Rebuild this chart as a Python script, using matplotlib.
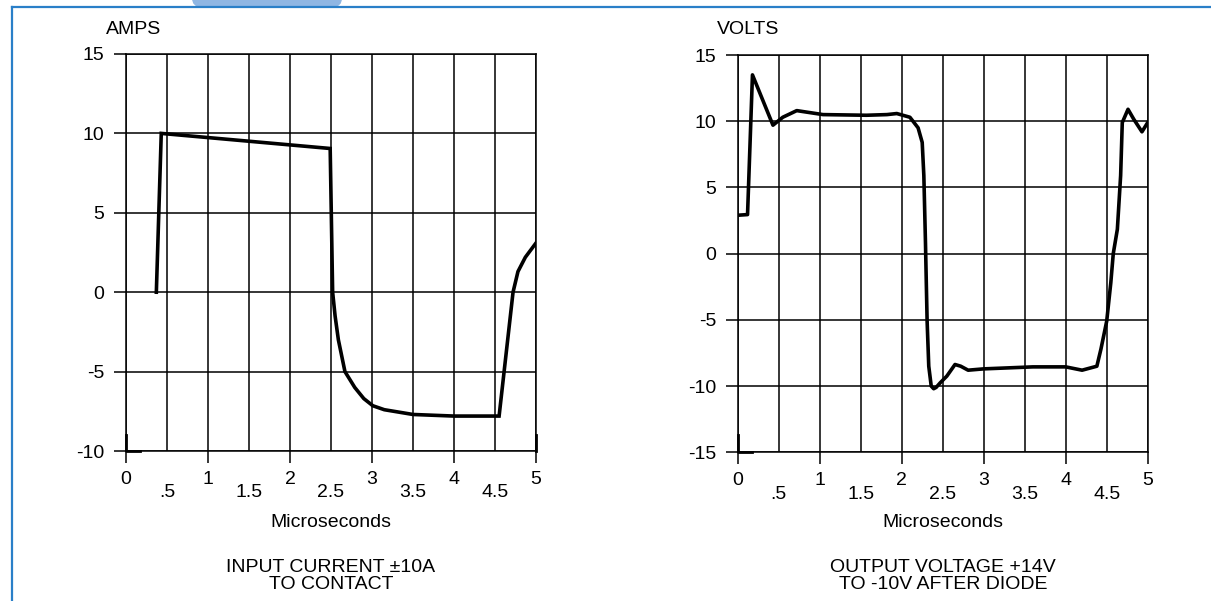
import matplotlib
matplotlib.use("Agg")
import matplotlib.pyplot as plt
from matplotlib.lines import Line2D
from matplotlib.patches import FancyBboxPatch
from matplotlib.transforms import IdentityTransform

plt.rcParams['font.family'] = ['Liberation Sans', 'DejaVu Sans']
plt.rcParams['axes.unicode_minus'] = False

W, H = 1211, 601
FS = 14

# input current (A) vs time (us)
amps_t = [0.37, 0.43, 2.49, 2.52, 2.55, 2.59, 2.67, 2.79, 2.9, 3.01, 3.15, 3.5, 4.0, 4.55,
          4.72, 4.78, 4.87, 5.0]
amps_v = [0.0, 10.0, 9.05, 0.0, -1.5, -3.0, -5.0, -6.0, -6.7, -7.15, -7.4, -7.7, -7.8, -7.8,
          0.0, 1.3, 2.2, 3.1]

# output voltage (V) vs time (us)
volts_t = [0.0, 0.12, 0.18, 0.43, 0.55, 0.72, 1.04, 1.57, 1.82, 1.94, 2.1, 2.2, 2.25, 2.27,
           2.29, 2.30, 2.31, 2.33, 2.36, 2.39, 2.42, 2.47, 2.55, 2.65, 2.72, 2.81, 3.0, 3.6,
           4.0, 4.2, 4.38, 4.43, 4.5, 4.55, 4.58, 4.63, 4.67, 4.69, 4.76, 4.83, 4.93, 5.0]
volts_v = [2.9, 2.95, 13.5, 9.7, 10.3, 10.8, 10.5, 10.45, 10.5, 10.58, 10.3, 9.5, 8.4, 5.9,
           0.8, -2.2, -5.1, -8.5, -10.0, -10.2, -10.1, -9.75, -9.25, -8.37, -8.5, -8.8, -8.7,
           -8.55, -8.55, -8.8, -8.5, -7.2, -5.1, -2.2, 0.0, 1.84, 5.9, 9.9, 10.9, 10.15, 9.2, 9.9]

major_x = [0, 1, 2, 3, 4, 5]
minor_x = [0.5, 1.5, 2.5, 3.5, 4.5]
minor_labels = ['.5', '1.5', '2.5', '3.5', '4.5']
amps_yticks = [-10, -5, 0, 5, 10, 15]
volts_yticks = [-15, -10, -5, 0, 5, 10, 15]


def box(l, t, r, b):
    return [l / W, 1 - b / H, (r - l) / W, (b - t) / H]


def fy(y):
    return 1 - y / H


def setup(ax, yticks):
    ax.set_xlim(0, 5)
    ax.set_ylim(yticks[0], yticks[-1])
    ax.set_xticks(major_x)
    ax.set_xticklabels([str(v) for v in major_x])
    ax.set_xticks(minor_x, minor=True)
    ax.set_xticklabels(minor_labels, minor=True)
    ax.set_yticks(yticks)
    ax.tick_params(which='major', length=8.5, width=1.1, color='black', labelsize=FS, pad=7)
    ax.tick_params(axis='x', which='major', pad=6)
    ax.tick_params(axis='x', which='minor', length=0, pad=24, labelsize=FS)
    ax.grid(True, which='both', axis='x', color='black', lw=1.1)
    ax.grid(True, which='major', axis='y', color='black', lw=1.1)
    ax.set_axisbelow(True)
    for s in ax.spines.values():
        s.set_linewidth(1.1)


fig = plt.figure(figsize=(W / 100, H / 100), dpi=100)

ax1 = fig.add_axes(box(126, 54, 536, 451))
setup(ax1, amps_yticks)
ax1.plot(amps_t, amps_v, color='black', lw=2.6, solid_joinstyle='miter')
ax1.plot([0, 0, 0.17], [-9, -10, -10], color='black', lw=2, clip_on=False)
ax1.plot([5, 5], [-9, -10], color='black', lw=2, clip_on=False)

ax2 = fig.add_axes(box(737.7, 55, 1147.7, 452.3))
setup(ax2, volts_yticks)
ax2.plot(volts_t, volts_v, color='black', lw=2.6, solid_joinstyle='round')
ax2.plot([0, 0, 0.17], [-13.7, -15, -15], color='black', lw=2, clip_on=False)

# labels
fig.text(106 / W, fy(29), 'AMPS', fontsize=FS, ha='left', va='center')
fig.text(717 / W, fy(29), 'VOLTS', fontsize=FS, ha='left', va='center')
for cx, l1, l2 in [(331, 'INPUT CURRENT ±10A', 'TO CONTACT'),
                   (943, 'OUTPUT VOLTAGE +14V', 'TO -10V AFTER DIODE')]:
    fig.text(cx / W, fy(527), 'Microseconds', fontsize=FS, ha='center', va='baseline')
    fig.text(cx / W, fy(572), l1, fontsize=FS, ha='center', va='baseline')
    fig.text(cx / W, fy(589), l2, fontsize=FS, ha='center', va='baseline')

# frame and tab
tab = FancyBboxPatch((192, H - 7), 150, 20, boxstyle='round,pad=0,rounding_size=9',
                     transform=IdentityTransform(), facecolor='#8fb6e3', edgecolor='none', zorder=1)
fig.add_artist(tab)
fig.add_artist(Line2D([12 / W, 1], [fy(7), fy(7)], color='#2a7fc8', lw=1.6, zorder=2))
fig.add_artist(Line2D([12 / W, 12 / W], [fy(7), 0], color='#2a7fc8', lw=1.6, zorder=2))

fig.savefig('out.png', dpi=100)
